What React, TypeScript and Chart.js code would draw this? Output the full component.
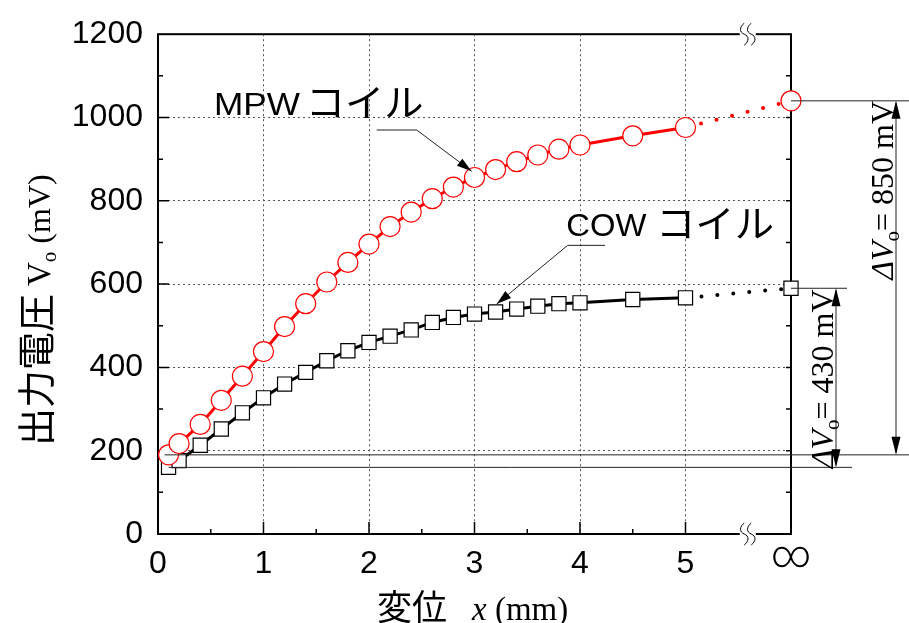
import React, { useEffect, useRef } from 'react';
import { Chart, registerables } from 'chart.js';

Chart.register(...registerables);

// Displacement x (mm); the last entry (6) is the "∞" position on the axis.
const displacement = [0.1, 0.2, 0.4, 0.6, 0.8, 1.0, 1.2, 1.4, 1.6, 1.8, 2.0, 2.2, 2.4, 2.6, 2.8, 3.0, 3.2, 3.4, 3.6, 3.8, 4.0, 4.5, 5.0, 6];
// Output voltage Vo (mV)
const mpwVoltage = [190, 217, 263, 321, 379, 438, 498, 553, 605, 652, 696, 738, 773, 805, 833, 856, 875, 894, 910, 924, 934, 956, 976, 1040];
const cowVoltage = [160, 176, 213, 252, 291, 327, 360, 388, 416, 440, 460, 475, 490, 508, 520, 528, 533, 540, 547, 553, 555, 563, 567, 590];

const INF_X = 6;
const xTickLabels = ['0', '1', '2', '3', '4', '5', '∞'];
const seriesNames = ['MPWコイル', 'COWコイル'];
const deltaLabels = ['850 mV', '430 mV'];

const SANS = '"Liberation Sans", Arial, sans-serif';
const SERIF = '"Liberation Serif", "Times New Roman", serif';
const CJK = '"Noto Sans CJK JP", "Noto Sans CJK SC", sans-serif';

type Run = { text: string; font: string; dy?: number; gap?: number };

function drawRuns(ctx: CanvasRenderingContext2D, runs: Run[], x: number, y: number) {
  let cx = x;
  for (const r of runs) {
    ctx.font = r.font;
    ctx.fillText(r.text, cx, y + (r.dy || 0));
    cx += ctx.measureText(r.text).width + (r.gap || 0);
  }
  return cx;
}

// text squeezed/stretched to a given advance width
function drawFitted(ctx: CanvasRenderingContext2D, text: string, font: string, x: number, y: number, width: number) {
  ctx.font = font;
  const w = ctx.measureText(text).width;
  ctx.save();
  ctx.translate(x, y);
  ctx.scale(width / w, 1);
  ctx.fillText(text, 0, 0);
  ctx.restore();
}

function arrowHead(ctx: CanvasRenderingContext2D, fx: number, fy: number, tx: number, ty: number, len: number, half: number) {
  const ang = Math.atan2(ty - fy, tx - fx);
  const bx = tx - len * Math.cos(ang);
  const by = ty - len * Math.sin(ang);
  const nx = -Math.sin(ang) * half;
  const ny = Math.cos(ang) * half;
  ctx.beginPath();
  ctx.moveTo(tx, ty);
  ctx.lineTo(bx + nx, by + ny);
  ctx.lineTo(bx - nx, by - ny);
  ctx.closePath();
  ctx.fill();
}

const decor = {
  id: 'decor',
  beforeDatasetsDraw(chart: any) {
    const { ctx, chartArea: a, scales } = chart;
    const xs = scales.x;
    const ys = scales.y;
    ctx.save();
    ctx.strokeStyle = '#000';
    ctx.lineWidth = 2;
    ctx.strokeRect(a.left, a.top, a.right - a.left, a.bottom - a.top);

    ctx.lineWidth = 1.5;
    ctx.beginPath();
    for (let v = 100; v < 1200; v += 100) {
      const p = ys.getPixelForValue(v);
      const len = v % 200 === 0 ? 11 : 5;
      ctx.moveTo(a.left, p);
      ctx.lineTo(a.left + len, p);
      ctx.moveTo(a.right, p);
      ctx.lineTo(a.right - 5, p);
    }
    for (let v = 0.5; v <= 5.001; v += 0.5) {
      const p = xs.getPixelForValue(v);
      const len = Math.abs(v - Math.round(v)) < 0.01 ? 12 : 5;
      ctx.moveTo(p, a.bottom);
      ctx.lineTo(p, a.bottom - len);
    }
    ctx.stroke();

    // axis break marks between 5 and ∞
    const bx = xs.getPixelForValue(5.59);
    for (const yy of [a.top, a.bottom]) {
      ctx.fillStyle = '#fff';
      ctx.fillRect(bx - 8, yy - 3, 16, 6);
      ctx.strokeStyle = '#000';
      ctx.lineWidth = 1;
      for (const cx of [bx - 3.5, bx + 3.5]) {
        ctx.beginPath();
        ctx.moveTo(cx, yy - 11);
        ctx.bezierCurveTo(cx - 5, yy - 7, cx - 5, yy - 2, cx, yy);
        ctx.bezierCurveTo(cx + 5, yy + 2, cx + 5, yy + 7, cx, yy + 11);
        ctx.stroke();
      }
    }
    ctx.restore();
  },
  afterDatasetsDraw(chart: any) {
    const { ctx, chartArea: a, scales, width: W } = chart;
    const xs = scales.x;
    const ys = scales.y;
    const px = (v: number) => xs.getPixelForValue(v);
    const py = (v: number) => ys.getPixelForValue(v);
    const n = displacement.length - 1;
    ctx.save();
    ctx.fillStyle = '#000';
    ctx.strokeStyle = '#222';
    ctx.lineWidth = 1;

    // reference lines for the voltage differences
    const xInf = px(INF_X);
    const yMpw0 = py(mpwVoltage[0]);
    const yCow0 = py(cowVoltage[0]);
    const yMpwInf = py(mpwVoltage[n]);
    const yCowInf = py(cowVoltage[n]);
    const arrow850 = xInf + 105;
    const arrow430 = xInf + 45;
    ctx.beginPath();
    ctx.moveTo(px(displacement[0]) - 4, yMpw0); ctx.lineTo(W, yMpw0);
    ctx.moveTo(px(displacement[0]), yCow0); ctx.lineTo(xInf + 61, yCow0);
    ctx.moveTo(xInf, yMpwInf); ctx.lineTo(W, yMpwInf);
    ctx.moveTo(xInf, yCowInf); ctx.lineTo(xInf + 56, yCowInf);
    ctx.moveTo(arrow850, yMpwInf + 2); ctx.lineTo(arrow850, yMpw0 - 2);
    ctx.moveTo(arrow430, yCowInf + 2); ctx.lineTo(arrow430, yCow0 - 2);
    ctx.stroke();
    arrowHead(ctx, arrow850, yMpw0, arrow850, yMpwInf, 18, 4.5);
    arrowHead(ctx, arrow850, yMpwInf, arrow850, yMpw0, 18, 4.5);
    arrowHead(ctx, arrow430, yCow0, arrow430, yCowInf, 18, 4.5);
    arrowHead(ctx, arrow430, yCowInf, arrow430, yCow0, 18, 4.5);

    // ΔVo labels, rotated
    const deltaRuns = (val: string): Run[] => [
      { text: 'Δ', font: `italic 32px ${SERIF}` },
      { text: 'V', font: `italic 32px ${SERIF}` },
      { text: 'o', font: `21px ${SERIF}`, dy: 6 },
      { text: '= ' + val, font: `32px ${SERIF}` },
    ];
    ctx.fillStyle = '#000';
    ctx.save();
    ctx.translate(arrow850 - 3, yMpw0 - 175);
    ctx.rotate(-Math.PI / 2);
    ctx.textBaseline = 'alphabetic';
    drawRuns(ctx, deltaRuns(deltaLabels[0]), 0, 0);
    ctx.restore();
    ctx.save();
    ctx.translate(arrow430 - 3, yCow0 + 1);
    ctx.rotate(-Math.PI / 2);
    drawRuns(ctx, deltaRuns(deltaLabels[1]), 0, 0);
    ctx.restore();

    // series annotations with leader arrows
    ctx.strokeStyle = '#222';
    ctx.beginPath();
    ctx.moveTo(px(2.073), py(970)); ctx.lineTo(px(2.452), py(970));
    ctx.moveTo(px(2.452), py(970)); ctx.lineTo(px(2.973), py(871));
    ctx.moveTo(px(3.883), py(693)); ctx.lineTo(px(4.237), py(693));
    ctx.moveTo(px(3.883), py(693)); ctx.lineTo(px(3.21), py(552));
    ctx.stroke();
    arrowHead(ctx, px(2.452), py(970), px(2.973), py(871), 15, 4.5);
    arrowHead(ctx, px(3.883), py(693), px(3.21), py(552), 15, 4.5);

    ctx.textBaseline = 'alphabetic';
    const [mpwName, cowName] = seriesNames;
    drawFitted(ctx, mpwName.slice(0, 3), `32px ${SANS}`, px(0.53), py(1005), 86);
    drawFitted(ctx, mpwName.slice(3), `38px ${CJK}`, px(1.40), py(1003), 118);
    drawFitted(ctx, cowName.slice(0, 3), `32px ${SANS}`, px(3.87), py(715), 80);
    drawFitted(ctx, cowName.slice(3), `38px ${CJK}`, px(4.72), py(713), 118);

    // axis titles
    drawRuns(ctx, [
      { text: '変位', font: `35px ${CJK}`, gap: 25 },
      { text: 'x', font: `italic 33px ${SERIF}` },
      { text: ' (mm)', font: `33px ${SERIF}` },
    ], a.left + 219, 620);

    ctx.save();
    ctx.translate(50, 446);
    ctx.rotate(-Math.PI / 2);
    drawRuns(ctx, [
      { text: '出力電圧', font: `38px ${CJK}`, gap: 8 },
      { text: 'V', font: `33px ${SERIF}` },
      { text: 'o', font: `21px ${SERIF}`, dy: 6 },
      { text: ' (mV)', font: `32px ${SERIF}` },
    ], 0, 0);
    ctx.restore();

    ctx.restore();
  },
};

function dottedTail(color: string) {
  return {
    borderDash: (c: any) => (c.p1.parsed.x === INF_X ? [0, 16] : undefined),
    borderCapStyle: (c: any) => (c.p1.parsed.x === INF_X ? 'round' : 'butt'),
    borderWidth: (c: any) => (c.p1.parsed.x === INF_X ? 4 : 3),
    borderColor: color,
  };
}

export default function App() {
  const ref = useRef<HTMLCanvasElement | null>(null);

  useEffect(() => {
    if (!ref.current) return;
    const mpw = displacement.map((x, i) => ({ x, y: mpwVoltage[i] }));
    const cow = displacement.map((x, i) => ({ x, y: cowVoltage[i] }));
    const gridColor = (c: any) => {
      const v = c.tick ? c.tick.value : null;
      return v === 0 || v === 6 || v === 1200 ? 'rgba(0,0,0,0)' : '#555';
    };
    const chart = new Chart(ref.current, {
      type: 'line',
      data: {
        datasets: [
          {
            label: seriesNames[0],
            data: mpw,
            borderColor: '#ff0000',
            borderWidth: 3,
            pointStyle: 'circle',
            pointRadius: 10,
            pointBorderWidth: 1.2,
            pointBorderColor: '#ff0000',
            pointBackgroundColor: '#ffffff',
            clip: false,
            segment: dottedTail('#ff0000'),
          } as any,
          {
            label: seriesNames[1],
            data: cow,
            borderColor: '#000000',
            borderWidth: 3,
            pointStyle: 'rect',
            pointRadius: 10,
            pointBorderWidth: 1.2,
            pointBorderColor: '#000000',
            pointBackgroundColor: '#ffffff',
            clip: false,
            segment: dottedTail('#000000'),
          } as any,
        ],
      },
      options: {
        animation: false,
        responsive: false,
        maintainAspectRatio: false,
        layout: { padding: { top: 30, right: 118, left: 0, bottom: 0 } },
        plugins: { legend: { display: false }, tooltip: { enabled: false } },
        scales: {
          x: {
            type: 'linear',
            min: 0,
            max: 6,
            afterFit: (s: any) => { s.height = 89; },
            ticks: {
              stepSize: 1,
              autoSkip: false,
              maxRotation: 0,
              padding: 11,
              color: '#000',
              callback: (v: any) => xTickLabels[Math.round(Number(v))],
              font: (c: any) => (c.tick && c.tick.value === 6
                ? { family: 'Roboto, "Liberation Sans", sans-serif', size: 38, weight: '300', lineHeight: 0.68 }
                : { family: SANS, size: 32 }),
            },
            grid: { color: gridColor, lineWidth: 1, drawTicks: false },
            border: { display: false, dash: [2, 3] },
          },
          y: {
            min: 0,
            max: 1200,
            afterFit: (s: any) => { s.width = 158; },
            ticks: {
              stepSize: 200,
              padding: 15,
              color: '#000',
              callback: (v: any) => String(v),
              font: { family: SANS, size: 32 },
            },
            grid: { color: gridColor, lineWidth: 1, drawTicks: false },
            border: { display: false, dash: [2, 3] },
          },
        },
      } as any,
      plugins: [decor],
    });
    return () => chart.destroy();
  }, []);

  return (
    <div style={{ position: 'absolute', left: 0, top: 0, width: 909, height: 623, background: '#fff' }}>
      <canvas ref={ref} width={909} height={623} style={{ display: 'block' }} />
    </div>
  );
}
